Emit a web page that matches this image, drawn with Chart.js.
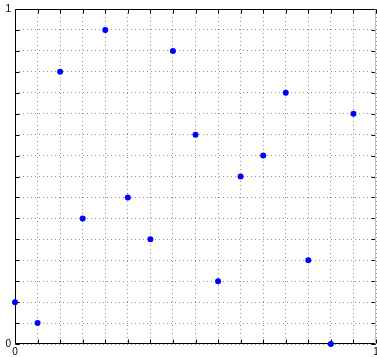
<!DOCTYPE html>
<html><head><meta charset="utf-8">
<script src="https://cdn.jsdelivr.net/npm/chart.js@4/dist/chart.umd.min.js"></script>
<style>html,body{margin:0;padding:0;background:#fff;overflow:hidden}#wrap{width:377px;height:357px;position:relative}canvas{display:block}</style>
</head><body><div id="wrap"><canvas id="c" width="377" height="357"></canvas></div>
<script>
const xValues = [0, 0.0625, 0.125, 0.1875, 0.25, 0.3125, 0.375, 0.4375, 0.5, 0.5625, 0.625, 0.6875, 0.75, 0.8125, 0.875, 0.9375];
const yValues = [0.125, 0.0625, 0.8125, 0.375, 0.9375, 0.4375, 0.3125, 0.875, 0.625, 0.1875, 0.5, 0.5625, 0.75, 0.25, 0, 0.6875];
const axisMin = 0;
const axisMax = 1;
const tickStep = 0.0625;
const labelledTicks = [0, 1];

const points = xValues.map((x, i) => ({x: x, y: yValues[i]}));
const FONT = '10px "Liberation Sans", Arial, sans-serif';

const boxPlugin = {
  id: 'box',
  beforeDatasetsDraw(chart) {
    const ctx = chart.ctx, a = chart.chartArea;
    const xs = chart.scales.x, ys = chart.scales.y;
    const L = Math.round(a.left) + 0.5, R = Math.round(a.right) - 0.5;
    const T = Math.round(a.top) + 0.5, B = Math.round(a.bottom) - 0.5;
    ctx.save();
    ctx.strokeStyle = '#000';
    ctx.lineWidth = 1;
    ctx.beginPath();
    xs.ticks.forEach(t => {
      const px = Math.round(xs.getPixelForValue(t.value)) + 0.5;
      ctx.moveTo(px, B); ctx.lineTo(px, B - 4);
      ctx.moveTo(px, T); ctx.lineTo(px, T + 4);
    });
    ys.ticks.forEach(t => {
      const py = Math.round(ys.getPixelForValue(t.value)) + 0.5;
      ctx.moveTo(L, py); ctx.lineTo(L + 4, py);
      ctx.moveTo(R, py); ctx.lineTo(R - 4, py);
    });
    ctx.stroke();
    ctx.beginPath();
    ctx.moveTo(L, T); ctx.lineTo(R, T);
    ctx.moveTo(L, T); ctx.lineTo(L, B);
    ctx.lineTo(R, B);
    ctx.stroke();
    ctx.strokeStyle = '#bbb';
    ctx.beginPath();
    ctx.moveTo(R, T); ctx.lineTo(R, B);
    ctx.stroke();

    ctx.fillStyle = '#000';
    ctx.font = FONT;
    ctx.textAlign = 'center';
    ctx.textBaseline = 'top';
    labelledTicks.forEach(v => {
      ctx.fillText(String(v), xs.getPixelForValue(v), a.bottom + 3);
    });
    ctx.textAlign = 'right';
    ctx.textBaseline = 'middle';
    labelledTicks.forEach(v => {
      ctx.fillText(String(v), a.left - 4, ys.getPixelForValue(v));
    });
    ctx.restore();
  }
};

new Chart(document.getElementById('c'), {
  type: 'scatter',
  data: {
    datasets: [{
      data: points,
      backgroundColor: '#0000ff',
      borderColor: '#0000ff',
      borderWidth: 0,
      pointRadius: 3,
      pointHoverRadius: 3,
      clip: false
    }]
  },
  options: {
    responsive: false,
    devicePixelRatio: 1,
    animation: false,
    events: [],
    layout: {autoPadding: false, padding: {left: 0, top: 9, right: 1, bottom: 0}},
    plugins: {legend: {display: false}, tooltip: {enabled: false}},
    scales: {
      x: {
        type: 'linear', min: axisMin, max: axisMax,
        ticks: {stepSize: tickStep, autoSkip: false, display: false},
        grid: {color: '#909090', lineWidth: 1, drawTicks: false},
        border: {display: false, dash: [1, 3]},
        afterFit(s) { s.height = 13; s.paddingLeft = 0; s.paddingRight = 0; }
      },
      y: {
        type: 'linear', min: axisMin, max: axisMax,
        ticks: {stepSize: tickStep, autoSkip: false, display: false},
        grid: {color: '#909090', lineWidth: 1, drawTicks: false},
        border: {display: false, dash: [1, 3]},
        afterFit(s) { s.width = 15; s.paddingTop = 0; s.paddingBottom = 0; }
      }
    }
  },
  plugins: [boxPlugin]
});
</script></body></html>
